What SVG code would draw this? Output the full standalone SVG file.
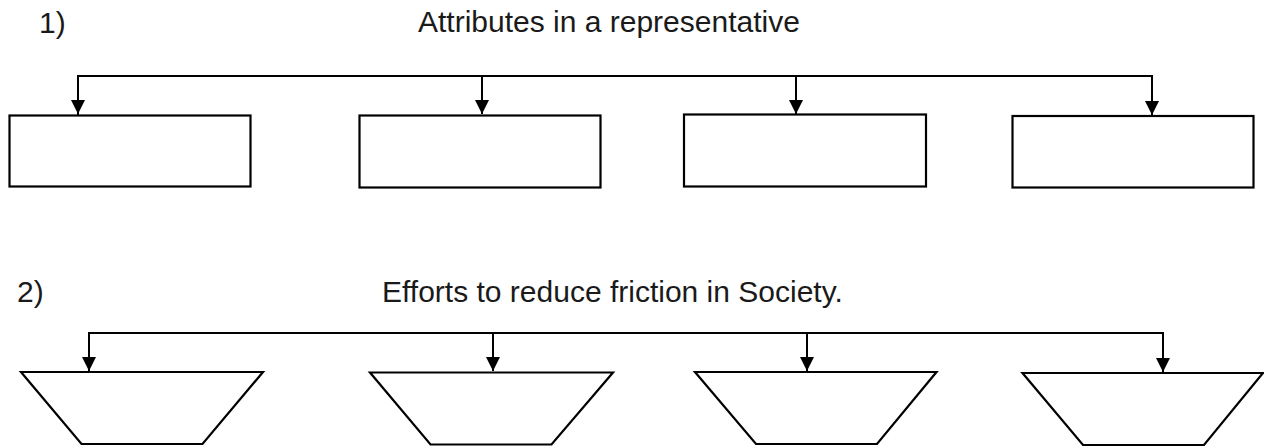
<svg xmlns="http://www.w3.org/2000/svg" width="1264" height="447" viewBox="0 0 1264 447">
<style>
.lbl{font-family:"Liberation Sans",Arial,sans-serif;font-size:30px;fill:#1a1a1a}
.box{fill:#fff;stroke:#000;stroke-width:2.2}
.con{fill:none;stroke:#000;stroke-width:2}
</style>
<defs>
<marker id="ah" markerUnits="userSpaceOnUse" markerWidth="16" markerHeight="16" viewBox="0 0 16 16" refX="14" refY="8" orient="auto">
<path d="M0,1 L14,8 L0,15 Z" fill="#000"/>
</marker>
</defs>
<rect width="1264" height="447" fill="#fff"/>
<g id="title1">
<text class="lbl" x="39" y="32.5">1)</text>
<text class="lbl" x="418" y="32">Attributes in a representative</text>
</g>
<g id="title2">
<text class="lbl" x="17" y="302">2)</text>
<text class="lbl" x="382" y="302">Efforts to reduce friction in Society.</text>
</g>
<g id="connectors">
<path class="con" d="M78,115 V76 H1152 V115"/>
<path class="con" d="M78,76 V114" marker-end="url(#ah)"/>
<path class="con" d="M482,76 V114" marker-end="url(#ah)"/>
<path class="con" d="M796,76 V114" marker-end="url(#ah)"/>
<path class="con" d="M1152,76 V115" marker-end="url(#ah)"/>
<path class="con" d="M89,372 V333 H1163 V372"/>
<path class="con" d="M89,333 V371" marker-end="url(#ah)"/>
<path class="con" d="M493,333 V371" marker-end="url(#ah)"/>
<path class="con" d="M807,333 V371" marker-end="url(#ah)"/>
<path class="con" d="M1163,333 V372" marker-end="url(#ah)"/>
</g>
<g id="box1"><rect class="box" x="9.5" y="115.5" width="241" height="71"/></g>
<g id="box2"><rect class="box" x="359.5" y="115.5" width="241" height="72"/></g>
<g id="box3"><rect class="box" x="684" y="114.5" width="242" height="72"/></g>
<g id="box4"><rect class="box" x="1012.5" y="116" width="241" height="71.5"/></g>
<g id="trap1"><polygon class="box" points="21,372 263,372 202.5,444 81.5,444"/></g>
<g id="trap2"><polygon class="box" points="370,372.5 613,372.5 551.5,444.5 430.5,444.5"/></g>
<g id="trap3"><polygon class="box" points="695,372 936.5,372 877,444 756,444"/></g>
<g id="trap4"><polygon class="box" points="1022.5,373 1263,373 1204,445 1083,445"/></g>
</svg>
